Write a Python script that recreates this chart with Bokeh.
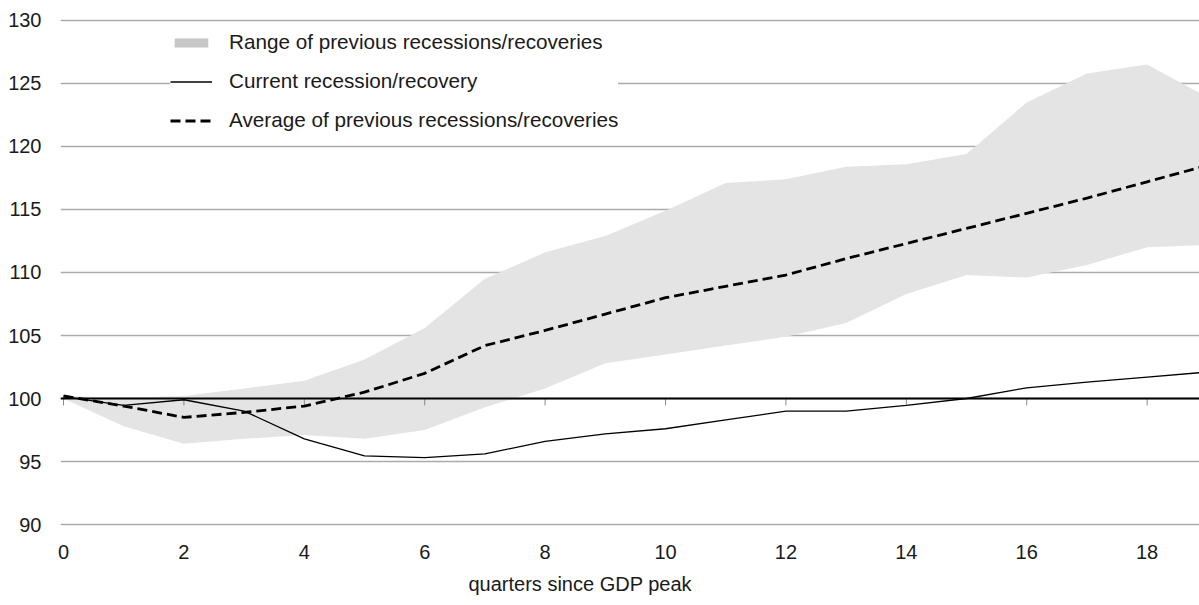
from bokeh.plotting import figure
from bokeh.models import Range1d, FixedTicker, Span, ColumnDataSource, Title
from bokeh.embed import file_html
from bokeh.resources import INLINE

# ---- data ----
quarters = list(range(20))
current = [100.15, 99.45, 99.9, 99.0, 96.8, 95.45, 95.3, 95.6, 96.6, 97.2,
           97.6, 98.3, 99.0, 99.0, 99.45, 100.0, 100.85, 101.3, 101.7, 102.1]
average = [100.2, 99.4, 98.5, 98.9, 99.4, 100.5, 102.0, 104.2, 105.4, 106.7,
           108.0, 108.9, 109.8, 111.1, 112.3, 113.5, 114.7, 115.9, 117.2, 118.5]
range_upper = [100.2, 100.05, 100.2, 100.8, 101.4, 103.1, 105.6, 109.5, 111.6, 112.9,
               114.9, 117.1, 117.4, 118.4, 118.6, 119.4, 123.5, 125.8, 126.5, 123.9]
range_lower = [100.0, 97.8, 96.4, 96.8, 97.1, 96.8, 97.5, 99.3, 100.8, 102.8,
               103.5, 104.2, 104.9, 106.0, 108.3, 109.8, 109.6, 110.6, 112.0, 112.2]
x_ticks = [0, 2, 4, 6, 8, 10, 12, 14, 16, 18]
y_ticks = [90, 95, 100, 105, 110, 115, 120, 125, 130]
baseline = 100
x_title = "quarters since GDP peak"
leg_range = "Range of previous recessions/recoveries"
leg_current = "Current recession/recovery"
leg_average = "Average of previous recessions/recoveries"

FONT = "Liberation Sans"
TXT = "#1a1a1a"

p = figure(width=1199, height=605, output_backend="svg", toolbar_location=None,
           x_range=Range1d(-0.05, 18.87), y_range=Range1d(88.651, 131.587),
           min_border_left=60, min_border_right=0, min_border_top=0,
           min_border_bottom=64)
p.outline_line_color = None
p.background_fill_color = "white"
p.border_fill_color = "white"

src = ColumnDataSource(dict(x=quarters, cur=current, avg=average,
                            up=range_upper, lo=range_lower))

# legend key for the band (darker swatch), hidden in the plot itself
p.varea(x="x", y1="lo", y2="up", source=src, fill_color="#c6c6c6",
        visible=False, legend_label=leg_range)
# band
p.varea(x="x", y1="lo", y2="up", source=src, fill_color="#e4e4e4", fill_alpha=1.0)

# baseline and its ticks
p.add_layout(Span(location=baseline, dimension="width", line_color="black", line_width=2.2))
p.segment(x0=x_ticks, y0=[baseline] * len(x_ticks), x1=x_ticks,
          y1=[baseline - 0.55] * len(x_ticks), line_color="#8a8a8a", line_width=1)

p.line(x="x", y="cur", source=src, line_color="black", line_width=1.3,
       legend_label=leg_current)
p.line(x="x", y="avg", source=src, line_color="black", line_width=2.8,
       line_dash="10 5", legend_label=leg_average)

# axes
p.xaxis.ticker = FixedTicker(ticks=x_ticks)
p.yaxis.ticker = FixedTicker(ticks=y_ticks)
for ax in (p.xaxis, p.yaxis):
    ax.axis_line_color = None
    ax.major_tick_line_color = None
    ax.minor_tick_line_color = None
    ax.major_tick_out = 0
    ax.major_tick_in = 0
    ax.major_label_text_font = FONT
    ax.major_label_text_font_size = "20px"
    ax.major_label_text_color = TXT
p.xaxis.major_label_standoff = 3
p.yaxis.major_label_standoff = 19

p.add_layout(Title(text=x_title, align="left", offset=408, standoff=19,
                   text_font=FONT, text_font_size="20px", text_font_style="normal",
                   text_color=TXT), "below")

p.xgrid.grid_line_color = None
p.ygrid.ticker = FixedTicker(ticks=y_ticks)
p.ygrid.grid_line_color = "#ababab"
p.ygrid.grid_line_width = 1.6

lg = p.legend[0]
lg.location = (110, 409)
lg.background_fill_color = "white"
lg.background_fill_alpha = 1.0
lg.border_line_color = None
lg.padding = 8
lg.margin = 0
lg.spacing = 15
lg.glyph_width = 42
lg.glyph_height = 11
lg.label_height = 23
lg.label_standoff = 17
lg.label_text_font = FONT
lg.label_text_font_size = "20.7px"
lg.label_text_color = TXT

open("out.html", "w").write(file_html(p, INLINE))
